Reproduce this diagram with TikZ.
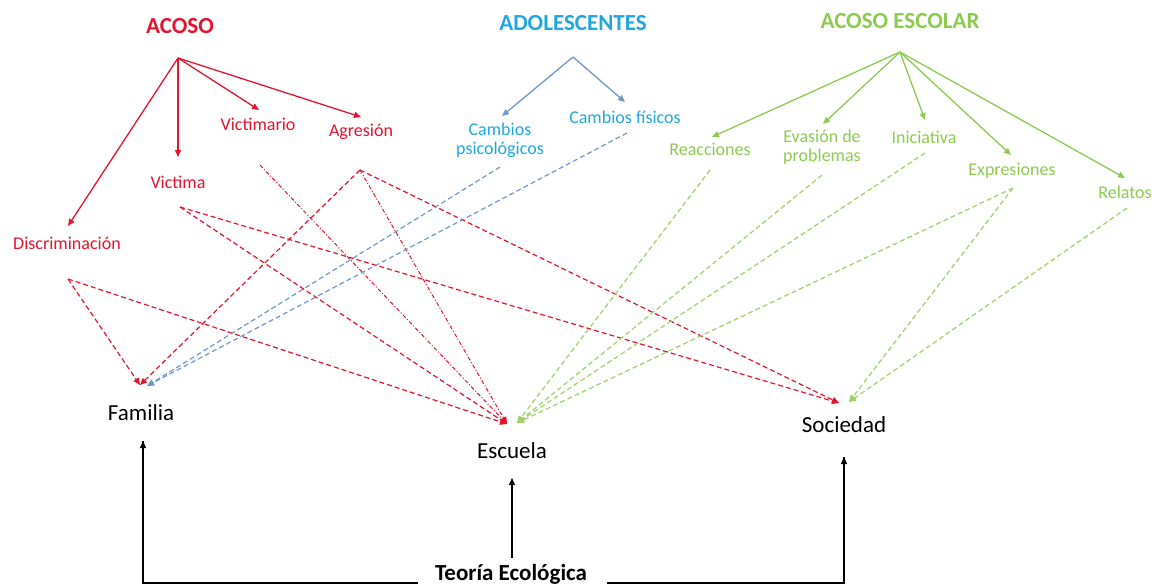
\documentclass[tikz,border=0pt]{standalone}
\usepackage{fontspec}
\setmainfont{Carlito}
\usetikzlibrary{arrows.meta}
\definecolor{acosored}{RGB}{228,20,45}
\definecolor{adolblue}{RGB}{30,168,222}
\definecolor{adolline}{RGB}{110,152,205}
\definecolor{escgreen}{RGB}{140,202,80}
\tikzset{
  tip/.style={-{Triangle[length=7pt,width=6pt]}},
  branch/.style={tip,line width=1.3pt},
  link/.style={tip,line width=1.2pt,dash pattern=on 5pt off 3pt},
  linkdot/.style={tip,line width=1pt,dash pattern=on 4pt off 2pt on 1pt off 2pt},
  title/.style={font=\bfseries\fontsize{23}{26}\selectfont},
  place/.style={font=\fontsize{23}{26}\selectfont},
}
\begin{document}
\begin{tikzpicture}[x=1pt,y=-1pt,font=\fontsize{18}{19}\selectfont]
\useasboundingbox (0,0) rectangle (1154,586);

% ACOSO
\begin{scope}[acosored]
\node[title] (acoso) at (180,26) {ACOSO};
\coordinate (acoso-f) at (178,58);
\node (disc) at (67,243) {Discriminación};
\node (vic) at (178,182) {Victima};
\node (vmar) at (258,124) {Victimario};
\node (agr) at (361,132) {Agresión};
\coordinate (disc-i) at (68,226);
\coordinate (vic-i) at (178,157);
\coordinate (vmar-i) at (259,110);
\coordinate (agr-i) at (361,117);
\foreach \t in {disc,vic,vmar,agr}
\draw[branch] (acoso-f) -- (\t-i);
\end{scope}

% ADOLESCENTES
\begin{scope}[adolblue]
\node[title] (adol) at (573,23) {ADOLESCENTES};
\coordinate (adol-f) at (573,57);
\node[align=center,font=\fontsize{18}{19}\selectfont] (psi) at (500,140) {Cambios\\psicológicos};
\node (fis) at (625,117) {Cambios físicos};
\coordinate (psi-i) at (502,116);
\coordinate (fis-i) at (625,102);
\foreach \t in {psi,fis}
\draw[branch,adolline] (adol-f) -- (\t-i);
\end{scope}

% ACOSO ESCOLAR
\begin{scope}[escgreen]
\node[title] (esco) at (900,21) {ACOSO ESCOLAR};
\coordinate (esco-f) at (900,52);
\node (reac) at (710,149) {Reacciones};
\node[align=center,font=\fontsize{18}{19}\selectfont] (eva) at (822,147) {Evasión de\\problemas};
\node (ini) at (924,137) {Iniciativa};
\node (expr) at (1012,171) {Expresiones};
\node (rel) at (1125,192) {Relatos};
\coordinate (reac-i) at (712,137);
\coordinate (eva-i) at (823,124);
\coordinate (ini-i) at (925,120);
\coordinate (expr-i) at (1011,155);
\coordinate (rel-i) at (1125,178);
\foreach \t in {reac,eva,ini,expr,rel}
\draw[branch] (esco-f) -- (\t-i);
\end{scope}

% ambitos
\node[place] (fam) at (141,413) {Familia};
\node[place] (esc) at (512,451) {Escuela};
\node[place] (soc) at (844,425) {Sociedad};
\node[title] (teo) at (511,574) {Teoría Ecológica};

% salidas de las lineas
\coordinate (disc-o) at (68,279);
\coordinate (vic-o) at (180,207);
\coordinate (vmar-o) at (260,165);
\coordinate (agr-o) at (360,170);
\coordinate (psi-o) at (500,167);
\coordinate (fis-o) at (627,133);
\coordinate (reac-o) at (710,170);
\coordinate (eva-o) at (822,175);
\coordinate (ini-o) at (925,153);
\coordinate (expr-o) at (1013,188);
\coordinate (rel-o) at (1127,208);

% llegadas
\coordinate (fam-r) at (140,385);
\coordinate (fam-b) at (147,386);
\coordinate (esc-r) at (507,424);
\coordinate (esc-g) at (517,423);
\coordinate (soc-r) at (839,403);
\coordinate (soc-g) at (849,402);

\begin{scope}[acosored]
\foreach \a/\b in {disc-o/fam-r,agr-o/fam-r,disc-o/esc-r,vic-o/esc-r,vic-o/soc-r,agr-o/soc-r}
\draw[link] (\a) -- (\b);
\foreach \a in {vmar-o,agr-o}
\draw[linkdot] (\a) -- (esc-r);
\end{scope}

\foreach \a in {psi-o,fis-o}
\draw[link,adolline] (\a) -- (fam-b);

\begin{scope}[escgreen!85]
\foreach \a/\b in {reac-o/esc-g,eva-o/esc-g,ini-o/esc-g,expr-o/esc-g,expr-o/soc-g,rel-o/soc-g}
\draw[link] (\a) -- (\b);
\end{scope}

% teoria ecologica
\coordinate (teo-l) at (418,583);
\coordinate (teo-r) at (607,583);
\coordinate (fam-u) at (143,441);
\coordinate (esc-u) at (512,478);
\coordinate (soc-u) at (844,457);
\coordinate (teo-t) at (512,558);
\draw[line width=1.2pt] (teo-l) -| (fam-u);
\draw[line width=1.2pt] (teo-r) -| (soc-u);
\draw[tip,line width=1.2pt] (teo-l -| fam-u) -- (fam-u);
\draw[tip,line width=1.2pt] (teo-r -| soc-u) -- (soc-u);
\draw[tip,line width=1.2pt] (teo-t) -- (esc-u);

\end{tikzpicture}
\end{document}
